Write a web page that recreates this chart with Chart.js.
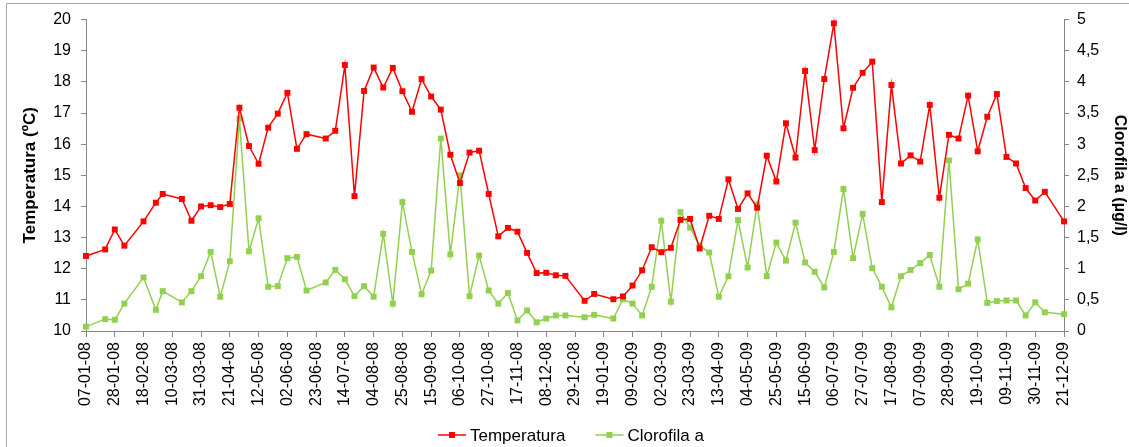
<!DOCTYPE html>
<html lang="es">
<head>
<meta charset="utf-8">
<script src="https://cdn.jsdelivr.net/npm/chart.js@4.4.1/dist/chart.umd.min.js"></script>
<style>
  html, body { margin: 0; padding: 0; background: #fff; }
  #grafico { display: block; }
</style>
</head>
<body>
<canvas id="grafico" width="1129" height="447"></canvas>
<script>
// Muestreos semanales (dd-mm-yy)
const fechas = [
  "07-01-08", "21-01-08", "28-01-08", "04-02-08", "18-02-08", "27-02-08", "03-03-08", "17-03-08", "24-03-08", "31-03-08",
  "07-04-08", "14-04-08", "21-04-08", "28-04-08", "05-05-08", "12-05-08", "19-05-08", "26-05-08", "02-06-08", "09-06-08",
  "16-06-08", "30-06-08", "07-07-08", "14-07-08", "21-07-08", "28-07-08", "04-08-08", "11-08-08", "18-08-08", "25-08-08",
  "01-09-08", "08-09-08", "15-09-08", "22-09-08", "29-09-08", "06-10-08", "13-10-08", "20-10-08", "27-10-08", "03-11-08",
  "10-11-08", "17-11-08", "24-11-08", "01-12-08", "08-12-08", "15-12-08", "22-12-08", "05-01-09", "12-01-09", "26-01-09",
  "02-02-09", "09-02-09", "16-02-09", "23-02-09", "02-03-09", "09-03-09", "16-03-09", "23-03-09", "30-03-09", "06-04-09",
  "13-04-09", "20-04-09", "27-04-09", "04-05-09", "11-05-09", "18-05-09", "25-05-09", "01-06-09", "08-06-09", "15-06-09",
  "22-06-09", "29-06-09", "06-07-09", "13-07-09", "20-07-09", "27-07-09", "03-08-09", "10-08-09", "17-08-09", "24-08-09",
  "31-08-09", "07-09-09", "14-09-09", "21-09-09", "28-09-09", "05-10-09", "12-10-09", "19-10-09", "26-10-09", "02-11-09",
  "09-11-09", "16-11-09", "23-11-09", "30-11-09", "07-12-09", "21-12-09"
]

// Temperatura del agua (ºC)
const temperatura = [
  12.41, 12.62, 13.26, 12.74, 13.52, 14.12, 14.40, 14.24, 13.54, 14.00,
  14.04, 13.98, 14.08, 17.17, 15.94, 15.37, 16.53, 16.98, 17.65, 15.85,
  16.32, 16.18, 16.43, 18.54, 14.33, 17.71, 18.46, 17.82, 18.45, 17.70,
  17.04, 18.09, 17.53, 17.11, 15.66, 14.75, 15.73, 15.79, 14.40, 13.04,
  13.31, 13.19, 12.51, 11.86, 11.87, 11.79, 11.77, 10.97, 11.19, 11.02,
  11.11, 11.46, 11.95, 12.69, 12.53, 12.67, 13.57, 13.60, 12.65, 13.70,
  13.60, 14.87, 13.92, 14.42, 13.96, 15.63, 14.80, 16.67, 15.57, 18.35,
  15.81, 18.09, 19.88, 16.51, 17.81, 18.29, 18.65, 14.14, 17.90, 15.38,
  15.64, 15.44, 17.26, 14.28, 16.30, 16.18, 17.56, 15.77, 16.88, 17.61,
  15.59, 15.38, 14.59, 14.19, 14.47, 13.52
]

// Clorofila a (µg/l)
const clorofila = [
  0.07, 0.19, 0.18, 0.44, 0.86, 0.34, 0.64, 0.46, 0.64, 0.88,
  1.27, 0.55, 1.12, 3.41, 1.28, 1.81, 0.71, 0.72, 1.17, 1.19,
  0.65, 0.78, 0.98, 0.83, 0.56, 0.72, 0.55, 1.56, 0.44, 2.07,
  1.27, 0.59, 0.97, 3.09, 1.23, 2.50, 0.56, 1.21, 0.65, 0.44,
  0.61, 0.17, 0.33, 0.14, 0.20, 0.25, 0.25, 0.22, 0.26, 0.20,
  0.51, 0.44, 0.25, 0.71, 1.77, 0.47, 1.91, 1.66, 1.37, 1.26,
  0.55, 0.88, 1.78, 1.02, 2.03, 0.88, 1.42, 1.13, 1.74, 1.10,
  0.95, 0.70, 1.27, 2.28, 1.17, 1.88, 1.01, 0.71, 0.38, 0.88,
  0.98, 1.09, 1.22, 0.71, 2.74, 0.67, 0.76, 1.47, 0.45, 0.48,
  0.49, 0.49, 0.25, 0.46, 0.30, 0.27
]

// Eje de fechas: primera y última marca, separación en días
const fechaInicio = "07-01-08"
const fechaFin = "21-12-09"
const pasoDias = 21

const DIA = 86400000
const rojo = "#ff0000"
const verde = "#92d050"
const gris = "#868686"
const fuente = "'Liberation Sans', Arial, sans-serif"

function aUTC(f) {
  const [d, m, a] = f.split("-").map(Number)
  return Date.UTC(2000 + a, m - 1, d)
}
const origen = aUTC(fechaInicio)
const aDias = (f) => Math.round((aUTC(f) - origen) / DIA)
const dd = (n) => String(n).padStart(2, "0")
function aFecha(dias) {
  const t = new Date(origen + dias * DIA)
  return dd(t.getUTCDate()) + "-" + dd(t.getUTCMonth() + 1) + "-" + dd(t.getUTCFullYear() % 100)
}

Chart.defaults.font.family = fuente
Chart.defaults.font.size = 16
Chart.defaults.color = "#000"

// Marco exterior del gráfico
const marco = {
  id: "marco",
  beforeDraw(chart) {
    const { ctx, width, height } = chart
    ctx.save()
    ctx.strokeStyle = "#a6a6a6"
    ctx.lineWidth = 1
    ctx.beginPath()
    ctx.moveTo(6.5, height)
    ctx.lineTo(6.5, 3.5)
    ctx.lineTo(width, 3.5)
    ctx.stroke()
    ctx.restore()
  }
}

// Leyenda inferior: línea con marcador cuadrado + texto
const leyenda = {
  id: "leyenda",
  afterDraw(chart) {
    const { ctx } = chart
    const y = 435
    let x = 438
    ctx.save()
    ctx.font = "17px " + fuente
    ctx.textBaseline = "middle"
    chart.data.datasets.forEach((ds) => {
      ctx.strokeStyle = ds.borderColor
      ctx.lineWidth = 1.5
      ctx.beginPath()
      ctx.moveTo(x, y)
      ctx.lineTo(x + 28, y)
      ctx.stroke()
      ctx.fillStyle = ds.borderColor
      ctx.fillRect(x + 11, y - 3, 6, 6)
      ctx.fillStyle = "#000"
      ctx.fillText(ds.label, x + 32, y + 1)
      x += 32 + ctx.measureText(ds.label).width + 30
    })
    ctx.restore()
  }
}

const serie = (valores) => fechas.map((f, i) => ({ x: aDias(f), y: valores[i] }))

const comunes = {
  borderWidth: 1.5,
  pointStyle: "rect",
  pointRadius: 4.2,
  pointBorderWidth: 0,
  tension: 0,
  clip: false
}

const ctx = document.getElementById("grafico").getContext("2d")
new Chart(ctx, {
  type: "line",
  data: {
    datasets: [
      {
        ...comunes,
        label: "Temperatura",
        data: serie(temperatura),
        yAxisID: "y",
        borderColor: rojo,
        backgroundColor: rojo
      },
      {
        ...comunes,
        label: "Clorofila a",
        data: serie(clorofila),
        yAxisID: "y2",
        borderColor: verde,
        backgroundColor: verde
      }
    ]
  },
  options: {
    responsive: false,
    animation: false,
    layout: { padding: { top: 15, left: 0, right: 0, bottom: 0 } },
    plugins: {
      legend: { display: false },
      tooltip: { enabled: false }
    },
    scales: {
      x: {
        type: "linear",
        min: 0,
        max: aDias(fechaFin),
        afterBuildTicks: (scale) => {
          const ticks = []
          for (let d = 0; d <= aDias(fechaFin); d += pasoDias) ticks.push({ value: d })
          scale.ticks = ticks
        },
        afterFit: (scale) => { scale.height = 116 },
        ticks: {
          autoSkip: false,
          minRotation: 90,
          maxRotation: 90,
          padding: 5,
          callback: (v) => aFecha(v)
        },
        grid: { drawOnChartArea: false, tickLength: 6, color: gris },
        border: { color: gris }
      },
      y: {
        position: "left",
        min: 10,
        max: 20,
        afterFit: (scale) => { scale.width = 86 },
        ticks: { stepSize: 1, padding: 10 },
        grid: { drawOnChartArea: false, tickLength: 5, color: gris },
        border: { color: gris },
        title: {
          display: true,
          text: "Temperatura (ºC)",
          font: { size: 17, weight: "bold" },
          padding: { top: 20, bottom: 0 }
        }
      },
      y2: {
        position: "right",
        min: 0,
        max: 5,
        afterFit: (scale) => { scale.width = 65 },
        ticks: {
          stepSize: 0.5,
          padding: 8,
          callback: (v) => String(v).replace(".", ",")
        },
        grid: { drawOnChartArea: false, tickLength: 5, color: gris },
        border: { color: gris },
        title: {
          display: true,
          text: "Clorofila a (µg/l)",
          font: { size: 16, weight: "bold" },
          padding: { top: 0, bottom: 0 }
        }
      }
    }
  },
  plugins: [marco, leyenda]
})
</script>
</body>
</html>
